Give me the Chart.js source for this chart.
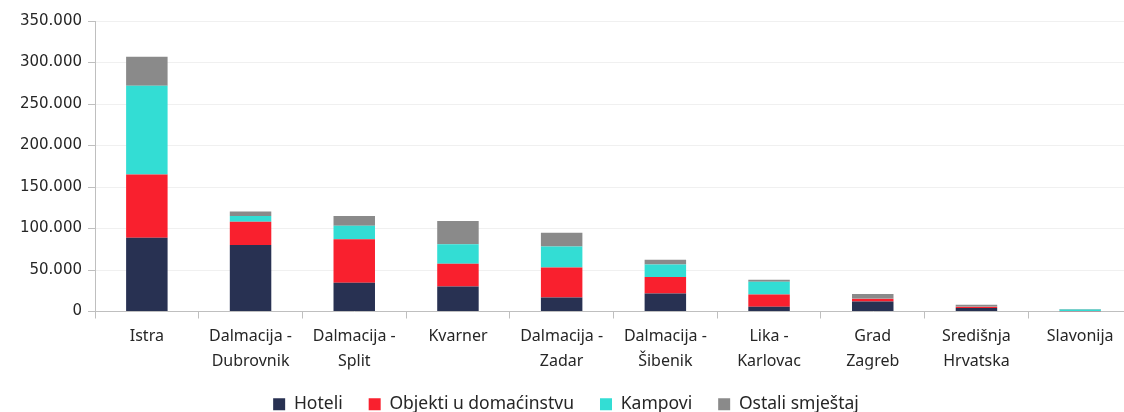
<!DOCTYPE html>
<html>
<head>
<meta charset="utf-8">
<script src="https://cdn.jsdelivr.net/npm/chart.js@4.4.1/dist/chart.umd.min.js"></script>
<style>
  html, body { margin:0; padding:0; background:#fff; overflow:hidden; }
  #wrap { width:1160px; height:423px; }
</style>
</head>
<body>
<div id="wrap"><canvas id="ch" width="1160" height="423"></canvas></div>
<script>
// regions (x axis)
const REGIONS = [
  ['Istra'], ['Dalmacija -','Dubrovnik'], ['Dalmacija -','Split'], ['Kvarner'],
  ['Dalmacija -','Zadar'], ['Dalmacija -','Šibenik'], ['Lika -','Karlovac'],
  ['Grad','Zagreb'], ['Središnja','Hrvatska'], ['Slavonija']
];
const SERIES_NAMES = ['Hoteli', 'Objekti u domaćinstvu', 'Kampovi', 'Ostali smještaj'];
const SERIES_COLORS = ['#283152', '#F9202E', '#33DDD4', '#8A8A8A'];

// values
const HOTELI   = [89000, 80000, 34600, 30200, 16900, 21700,  5700, 12000, 4100,  300];
const OBJEKTI  = [76000, 28000, 52300, 27400, 36200, 19800, 14800,  3500, 1500,  300];
const KAMPOVI  = [107000, 7000, 16500, 23300, 25300, 15200, 15300,   200,  300, 1800];
const OSTALI   = [35000,  5500, 11700, 28200, 16600,  5700,  2500,  5500, 2200,  500];

const Y_MAX = 350000, Y_STEP = 50000;

const fmt = v => String(v).replace(/\B(?=(\d{3})+(?!\d))/g, '.');

const datasets = [HOTELI, OBJEKTI, KAMPOVI, OSTALI].map((d, i) => ({
  label: SERIES_NAMES[i],
  data: d,
  backgroundColor: SERIES_COLORS[i],
  borderWidth: 0,
  barPercentage: 0.4,
  categoryPercentage: 1,
}));

new Chart(document.getElementById('ch'), {
  type: 'bar',
  data: { labels: REGIONS, datasets },
  options: {
    responsive: false,
    animation: false,
    // canvas is wider than the window: plot runs past the right edge like the original
    layout: { padding: { top: 21, left: 0, right: 28, bottom: 0 } },
    plugins: {
      tooltip: { enabled: false },
      legend: {
        position: 'bottom',
        labels: {
          font: { family: 'Noto Sans', size: 17.5 },
          color: '#262626',
          boxWidth: 12, boxHeight: 12,
          padding: 26,
        },
      },
    },
    scales: {
      x: {
        stacked: true,
        grid: { drawOnChartArea: false, color: '#BFBFBF', tickLength: 7, offset: true },
        border: { color: '#BFBFBF', width: 1 },
        ticks: {
          font: { family: 'Noto Sans', size: 16, lineHeight: 1.55 },
          color: '#262626', maxRotation: 0, autoSkip: false, padding: 6,
        },
        afterFit: s => { s.height = 58; },
      },
      y: {
        stacked: true,
        min: 0, max: Y_MAX,
        grid: { color: '#F0F0F0', tickColor: '#BFBFBF', tickLength: 7 },
        border: { color: '#BFBFBF', width: 1 },
        ticks: {
          stepSize: Y_STEP,
          font: { family: 'DejaVu Sans', size: 15 },
          color: '#262626', padding: 6,
          callback: v => fmt(v),
        },
        afterFit: s => { s.width = 95; },
      },
    },
  },
});
</script>
</body>
</html>
